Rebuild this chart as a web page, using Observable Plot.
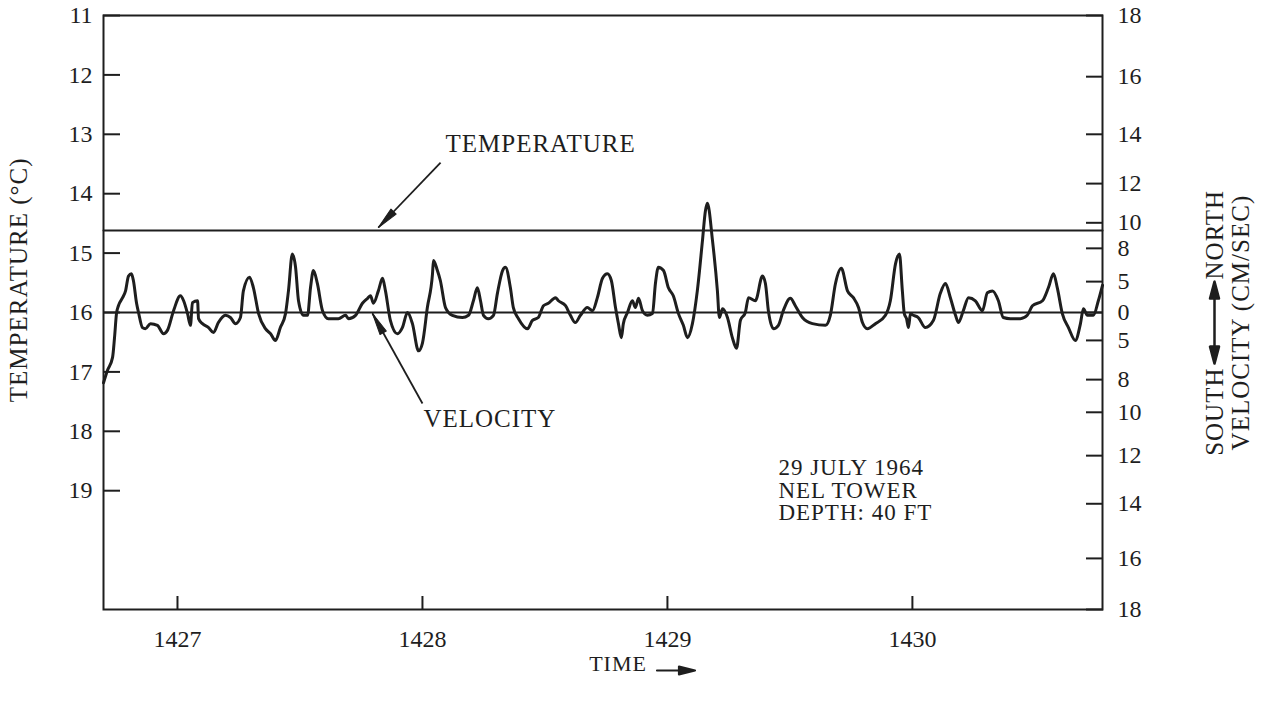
<!DOCTYPE html>
<html>
<head>
<meta charset="utf-8">
<script src="https://cdn.jsdelivr.net/npm/d3@7"></script>
<script src="https://cdn.jsdelivr.net/npm/@observablehq/plot@0.6"></script>
<style>
  html, body { margin: 0; padding: 0; background: #fff; }
  #chart svg { display: block; font-family: "Liberation Serif", "DejaVu Serif", serif; }
  #chart g[aria-label="text"] text { letter-spacing: 1px; }
</style>
</head>
<body>
<div id="chart"></div>
<script>
// ---------- data ----------
const timeTicks = [1427, 1428, 1429, 1430];
const tempTicks = [11, 12, 13, 14, 15, 16, 17, 18, 19];
// nonlinear velocity calibration: velocity (cm/s, + = north) vs. position on the temperature axis
const velTickValues = [-18, -16, -14, -12, -10, -8, -5, 0, 5, 8, 10, 12, 14, 16, 18];
const velTickTemp   = [21.0, 20.14, 19.22, 18.41, 17.68, 17.13, 16.47, 16.0, 15.48, 14.92, 14.49, 13.83, 13.0, 12.03, 11.0];

const tempTime  = [1426.698, 1430.776];
const tempValue = [14.62, 14.62];

const velTime = [
  1426.698,1426.714,1426.735,1426.743,1426.751,1426.759,1426.776,1426.788,1426.800,1426.812,
  1426.820,1426.833,1426.841,1426.857,1426.869,1426.890,1426.918,1426.943,1426.959,1426.984,
  1427.012,1427.025,1427.041,1427.053,1427.061,1427.082,1427.086,1427.102,1427.127,1427.147,
  1427.167,1427.196,1427.216,1427.237,1427.257,1427.269,1427.294,1427.310,1427.331,1427.359,
  1427.380,1427.400,1427.420,1427.441,1427.453,1427.469,1427.482,1427.494,1427.514,
  1427.531,1427.543,1427.555,1427.571,1427.592,1427.616,1427.657,1427.686,1427.698,1427.727,
  1427.755,1427.776,1427.788,1427.800,1427.820,1427.837,1427.849,1427.869,1427.898,1427.918,
  1427.939,1427.959,1427.984,1428.000,1428.020,1428.041,1428.045,1428.061,1428.073,1428.094,
  1428.122,1428.163,1428.188,1428.208,1428.224,1428.237,1428.249,1428.269,1428.290,1428.306,1428.327,
  1428.339,1428.359,1428.371,1428.392,1428.429,1428.449,1428.473,1428.494,1428.514,1428.543,
  1428.555,1428.584,1428.604,1428.624,1428.645,1428.673,1428.694,1428.714,1428.735,1428.755,
  1428.771,1428.788,1428.800,1428.812,1428.820,1428.837,1428.857,1428.869,1428.882,1428.898,
  1428.918,1428.939,1428.951,1428.963,1428.984,1429.004,1429.024,1429.045,1429.065,1429.082,
  1429.102,1429.122,1429.143,1429.155,
  1429.163,1429.184,1429.204,1429.212,1429.225,1429.245,1429.265,1429.282,1429.298,1429.318,
  1429.331,1429.359,1429.388,1429.400,1429.412,1429.433,1429.453,1429.473,1429.502,1429.522,
  1429.551,1429.592,1429.645,1429.665,1429.686,1429.710,1429.735,1429.759,1429.780,1429.796,
  1429.816,1429.849,1429.890,1429.910,1429.931,1429.947,
  1429.959,1429.967,1429.976,1429.984,1429.992,1430.004,1430.024,1430.053,1430.086,1430.114,
  1430.135,1430.155,1430.176,1430.188,1430.208,1430.229,1430.257,1430.286,1430.306,1430.327,
  1430.351,1430.371,1430.400,1430.441,1430.469,1430.490,1430.531,1430.555,1430.576,1430.592,
  1430.612,1430.637,1430.665,1430.686,1430.698,1430.714,1430.739,1430.759,1430.776
];
const velocity = [
  -8.2,-7.3,-6.3,-4.5,-0.2,1.1,2.4,3.5,5.5,5.7,
  5.1,1.5,0,-2.7,-2.9,-2.0,-2.3,-3.8,-3.2,0.3,
  2.7,1.9,-0.2,-2.3,1.6,1.9,-1.1,-2.0,-2.7,-3.6,
  -1.8,-0.5,-0.9,-2.0,-0.9,3.5,5.4,4.0,-0.2,-2.9,
  -3.8,-5.0,-2.7,-0.2,3.5,7.5,6.3,1.9,-0.5,
  -0.5,4.0,6.0,4.7,0.3,-1.1,-1.1,-0.5,-1.1,-0.5,
  1.5,2.3,2.7,1.5,3.5,5.3,3.5,-1.4,-3.8,-2.7,
  0,-2.0,-5.8,-5.2,0.8,5.7,6.9,6.0,5.1,0.8,
  -0.5,-0.9,-0.5,1.9,4.0,1.9,-0.5,-1.1,-0.5,3.1,6.0,
  6.3,4.0,0.8,-1.1,-2.9,-1.4,-0.9,1.1,1.5,2.4,
  1.9,1.1,-0.5,-1.8,-0.5,0.8,0.3,2.4,5.3,5.7,
  5.1,0.8,-2.0,-4.5,-2.0,0,1.9,0.8,2.3,0.3,
  -0.5,-0.2,4.7,6.3,6.0,4.0,2.7,-0.2,-2.3,-4.5,
  -2.0,3.5,8.6,10.6,
  11.0,8.6,3.5,-0.9,0.6,-0.9,-4.5,-5.6,-1.4,0,
  2.4,1.9,5.5,4.7,0.3,-2.9,-2.3,0.3,2.3,1.1,
  -0.9,-2.0,-2.3,-0.5,4.7,6.2,3.5,2.4,0.8,-1.8,
  -2.9,-2.0,-0.5,1.9,6.6,7.5,
  3.5,-0.2,-1.1,-2.7,-0.2,-0.5,-0.9,-2.7,-1.4,3.1,
  4.7,2.4,-0.5,-1.8,0.3,2.4,1.9,0.3,3.2,3.5,
  1.9,-0.9,-1.1,-1.1,-0.5,1.1,1.9,4.0,5.7,3.9,
  -0.2,-2.7,-5.0,-2.0,0.6,-0.5,-0.5,1.9,4.4
];

const infoLines = ["29 JULY 1964", "NEL TOWER", "DEPTH: 40 FT"];

// annotations (anchored in data units)
const noteText = ["TEMPERATURE", "VELOCITY"];
const noteTime = [1428.094, 1428.004];
const noteTemp = [13.155, 17.785];
const arrowFromTime = [1428.074, 1428.000];
const arrowFromTemp = [13.475, 17.532];
const arrowToTime   = [1427.820, 1427.796];
const arrowToTemp   = [14.569, 16.017];

// ---------- build ----------
const velToT = d3.scaleLinear().domain(velTickValues).range(velTickTemp);
const trace = velTime.map((t, i) => ({t, v: velocity[i]}));
const tempLine = tempTime.map((t, i) => ({t, T: tempValue[i]}));
const velLabel = new Map(velTickTemp.map((T, i) => [T, String(Math.abs(velTickValues[i]))]));
const notes = noteText.map((s, i) => ({s, t: noteTime[i], T: noteTemp[i]}));
const arrows = arrowFromTime.map((t, i) => ({t1: t, T1: arrowFromTemp[i], t2: arrowToTime[i], T2: arrowToTemp[i]}));

const ink = "#1e1e1e";

const singleArrow = {
  draw(ctx, l) {
    const h = l / 2;
    ctx.moveTo(0, h); ctx.lineTo(0, -h + 6);
    ctx.moveTo(0, -h); ctx.lineTo(-4, -h + 16); ctx.lineTo(4, -h + 16); ctx.closePath();
  }
};
const doubleArrow = {
  draw(ctx, l) {
    const h = l / 2;
    ctx.moveTo(0, h - 6); ctx.lineTo(0, -h + 6);
    ctx.moveTo(0, -h); ctx.lineTo(-4.5, -h + 17); ctx.lineTo(4.5, -h + 17); ctx.closePath();
    ctx.moveTo(0, h); ctx.lineTo(-4.5, h - 17); ctx.lineTo(4.5, h - 17); ctx.closePath();
  }
};
// filled arrowhead with its tip at the anchor, pointing "up" before rotation
const headShape = {
  draw(ctx, l) {
    ctx.moveTo(0, 0); ctx.lineTo(-3.6, l); ctx.lineTo(3.6, l); ctx.closePath();
  }
};

function baseMarks() {
  return [
    Plot.frame({stroke: ink, strokeWidth: 2}),
    // left (temperature) axis
    Plot.axisY(tempTicks, {anchor: "left", tickSize: 17, dx: 17, fill: "none", strokeWidth: 2, label: null}),
    Plot.axisY(tempTicks, {anchor: "left", tickSize: 0, tickPadding: 11, tickFormat: d => String(d), label: null, fontSize: 24}),
    // right (velocity) axis
    Plot.axisY(velTickTemp, {anchor: "right", tickSize: 17, dx: -17, fill: "none", strokeWidth: 2, label: null}),
    Plot.axisY(velTickTemp, {anchor: "right", tickSize: 0, tickPadding: 15, tickFormat: d => velLabel.get(d), label: null, fontSize: 24}),
    // bottom (time) axis
    Plot.axisX(timeTicks, {anchor: "bottom", tickSize: 13, dy: -13, fill: "none", strokeWidth: 2, label: null}),
    Plot.axisX(timeTicks, {anchor: "bottom", tickSize: 0, tickPadding: 20, tickFormat: d => String(d), label: null, fontSize: 24}),
    // lines
    Plot.line(tempLine, {x: "t", y: "T", stroke: ink, strokeWidth: 2}),
    Plot.ruleY([0], {y: v => velToT(v), stroke: ink, strokeWidth: 2}),
    Plot.line(trace, {x: "t", y: d => velToT(d.v), stroke: ink, strokeWidth: 3, curve: "monotone-x", strokeLinejoin: "round"}),
    // annotations
    Plot.link(arrows, {x1: "t1", y1: "T1", x2: "t2", y2: "T2", stroke: ink, strokeWidth: 1.8}),
    Plot.text(notes, {x: "t", y: "T", text: "s", textAnchor: "start", fontSize: 25, fill: ink}),
    Plot.text([infoLines.join("\n")], {x: () => 1429.453, y: () => 19.0, text: d => d, textAnchor: "start", lineAnchor: "middle", lineHeight: 0.98, fontSize: 23, fill: ink}),
    // axis titles
    Plot.text(["TEMPERATURE (°C)"], {frameAnchor: "left", y: () => 15.45, dx: -85, rotate: -90, textAnchor: "middle", lineAnchor: "middle", text: d => d, fontSize: 25, fill: ink}),
    Plot.text(["VELOCITY (CM/SEC)"], {frameAnchor: "right", y: () => 16.17, dx: 138, rotate: -90, textAnchor: "middle", lineAnchor: "middle", text: d => d, fontSize: 25, fill: ink}),
    Plot.text(["NORTH"], {frameAnchor: "right", y: () => 14.69, dx: 112, rotate: -90, textAnchor: "middle", lineAnchor: "middle", text: d => d, fontSize: 25, fill: ink}),
    Plot.text(["SOUTH"], {frameAnchor: "right", y: () => 17.67, dx: 112, rotate: -90, textAnchor: "middle", lineAnchor: "middle", text: d => d, fontSize: 25, fill: ink}),
    Plot.vector([0], {frameAnchor: "right", y: () => 16.17, dx: 112, length: 82, rotate: 0, anchor: "start", shape: doubleArrow, stroke: ink, fill: ink, strokeWidth: 2.5}),
    Plot.text(["TIME"], {frameAnchor: "bottom", dx: 15, dy: 61, text: d => d, fontSize: 22, fill: ink}),
    Plot.vector([0], {frameAnchor: "bottom", dx: 73, dy: 61, length: 38, rotate: 90, anchor: "start", shape: singleArrow, stroke: ink, fill: ink, strokeWidth: 2.2})
  ];
}

const layout = {
  width: 1265,
  height: 712,
  marginLeft: 103,
  marginRight: 163,
  marginTop: 15,
  marginBottom: 103,
  style: {fontFamily: "Liberation Serif, DejaVu Serif, serif", fontSize: "24px", color: ink, background: "#fff"},
  x: {domain: [1426.698, 1430.776]},
  y: {domain: [21, 11]}
};

// first pass: obtain the scales to orient the arrowheads in screen space
const probe = Plot.plot({...layout, marks: baseMarks()});
const sx = probe.scale("x"), sy = probe.scale("y");
const heads = arrows.map(a => {
  const dx = sx.apply(a.t2) - sx.apply(a.t1);
  const dy = sy.apply(a.T2) - sy.apply(a.T1);
  return {t: a.t2, T: a.T2, angle: Math.atan2(dx, -dy) * 180 / Math.PI};
});

const chart = Plot.plot({
  ...layout,
  marks: [
    ...baseMarks(),
    Plot.vector(heads, {x: "t", y: "T", rotate: "angle", length: 22, anchor: "start", shape: headShape, stroke: ink, strokeWidth: 1, fill: ink})
  ]
});
document.getElementById("chart").append(chart);
</script>
</body>
</html>
